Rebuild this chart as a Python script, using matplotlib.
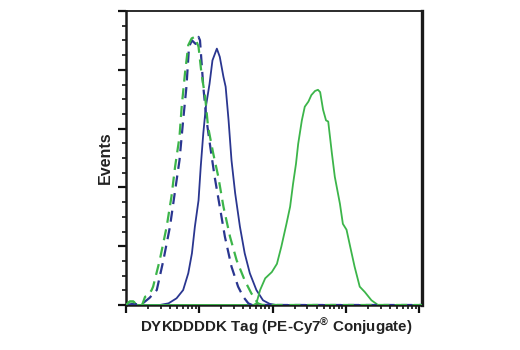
import numpy as np
import matplotlib
matplotlib.use("Agg")
import matplotlib.pyplot as plt
from matplotlib.ticker import LogLocator, NullFormatter

# log10 fluorescence positions and event counts
green_dash_x = [0.0, 0.05, 0.1, 0.15, 0.22, 0.26, 0.30, 0.35, 0.37, 0.46, 0.555, 0.62, 0.67, 0.73, 0.76, 0.805,
                0.85, 0.896, 0.94, 0.99, 1.03, 1.08, 1.12, 1.19, 1.26, 1.33, 1.42, 1.51,
                1.62, 1.71, 1.80, 1.86, 4.04]
green_dash_y = [0, 3, 3, 0, 0, 7, 8, 12.7, 15.6, 38, 66.6, 92, 117.6, 143, 168.6, 197,
                221, 226.7, 228, 219.6, 197, 177, 151.6, 129, 109, 83.6, 58, 38,
                21, 10, 1.4, 0, 0]

blue_dash_x = [0.0, 0.1, 0.2, 0.32, 0.42, 0.51, 0.60, 0.665, 0.73, 0.78, 0.825, 0.86, 0.90, 0.95, 0.99,
               1.01, 1.055, 1.10, 1.15, 1.21, 1.28, 1.35, 1.44, 1.53, 1.60, 1.67, 1.72, 4.04]
blue_dash_y = [0, 1, 0, 6, 12.7, 38, 66.6, 95, 123, 157, 185.6, 219.6, 225, 222, 228,
               225, 185.6, 157, 134.6, 109, 83.6, 58, 32.6, 15.6, 7, 1.4, 0, 0]

blue_solid_x = [0.0, 0.46, 0.58, 0.69, 0.78, 0.85, 0.90, 0.94, 0.99, 1.02, 1.055, 1.09, 1.14, 1.18, 1.24,
                1.28, 1.33, 1.36, 1.40, 1.44, 1.49, 1.555, 1.62, 1.69, 1.78, 1.87, 1.96, 2.05, 4.04]
blue_solid_y = [0, 0, 1.4, 5.7, 12.7, 27, 44, 66.6, 89, 117.6, 146, 168.6, 188, 208, 218,
                211, 194, 185.6, 157, 123, 95, 66.6, 44, 27, 12.7, 4, 1, 0, 0]

green_solid_x = [0.0, 0.05, 0.1, 0.15, 1.74, 1.78, 1.83, 1.90, 1.99, 2.06, 2.12, 2.19, 2.24, 2.28, 2.32, 2.35,
                 2.40, 2.44, 2.49, 2.53, 2.58, 2.62, 2.65, 2.69, 2.73, 2.76, 2.81, 2.85,
                 2.92, 2.96, 3.01, 3.06, 3.12, 3.19, 3.26, 3.35, 3.44, 4.04]
green_solid_y = [0, 3, 3, 0, 0, 1.4, 12.7, 22.7, 28, 35, 49.6, 69, 83.6, 103, 120, 137,
                 157, 168.6, 173, 178.5, 182, 183, 181, 166, 157, 156, 129, 109,
                 86, 69, 64, 49.6, 32.6, 15.6, 11, 4, 0, 0]

x_label = r"DYKDDDDK Tag (PE-Cy7$^{\circledR}$ Conjugate)"
y_label = "Events"

BLUE = "#2a3690"
GREEN = "#3cb54a"
FONT = ["Liberation Sans", "DejaVu Sans"]

plt.rcParams["mathtext.fontset"] = "custom"
plt.rcParams["mathtext.rm"] = "Liberation Sans:bold"
plt.rcParams["mathtext.default"] = "rm"

fig = plt.figure(figsize=(5.2, 3.5), dpi=100)
ax = fig.add_axes([126/520, 1-305/350, (422-126)/520, (305-11)/350])

def lx(v):
    return 10 ** np.asarray(v, dtype=float)

ax.plot(lx(blue_solid_x), blue_solid_y, color=BLUE, lw=1.3, zorder=3)
ax.plot(lx(green_solid_x), green_solid_y, color=GREEN, lw=1.3, zorder=3)
ax.plot(lx(blue_dash_x), blue_dash_y, color=BLUE, lw=1.6, ls=(0, (5, 3)), zorder=4)
ax.plot(lx(green_dash_x), green_dash_y, color=GREEN, lw=1.6, ls=(0, (5, 3)), zorder=5)

ax.set_xscale("log")
ax.set_xlim(1, 10 ** 4.04)
ax.set_ylim(0, 250)
ax.xaxis.set_major_locator(LogLocator(base=10, numticks=10))
ax.xaxis.set_minor_locator(LogLocator(base=10, subs=np.arange(2, 10), numticks=20))
ax.xaxis.set_major_formatter(NullFormatter())
ax.xaxis.set_minor_formatter(NullFormatter())
ax.set_yticks(np.arange(0, 251, 50))
ax.set_yticks(np.arange(0, 251, 12.5), minor=True)
ax.set_yticklabels([])

ax.tick_params(axis="both", which="major", direction="out", length=6, width=1.6, color="#111111")
ax.tick_params(axis="both", which="minor", direction="out", length=3, width=1.2, color="#111111")
ax.tick_params(top=False, right=False)

for side, w in [("left", 1.8), ("bottom", 1.8), ("right", 2.4), ("top", 1.3)]:
    ax.spines[side].set_linewidth(w)
    ax.spines[side].set_color("#1a1a1a")

fig.text(276/520, 1-327/350, x_label, ha="center", va="center", fontsize=10.9,
         fontweight="bold", family=FONT, color="#222222")
fig.text(105/520, 1-158/350, y_label, ha="center", va="center", rotation=90, fontsize=11.5,
         fontweight="bold", family=FONT, color="#222222")

fig.savefig("out.png", dpi=100)
